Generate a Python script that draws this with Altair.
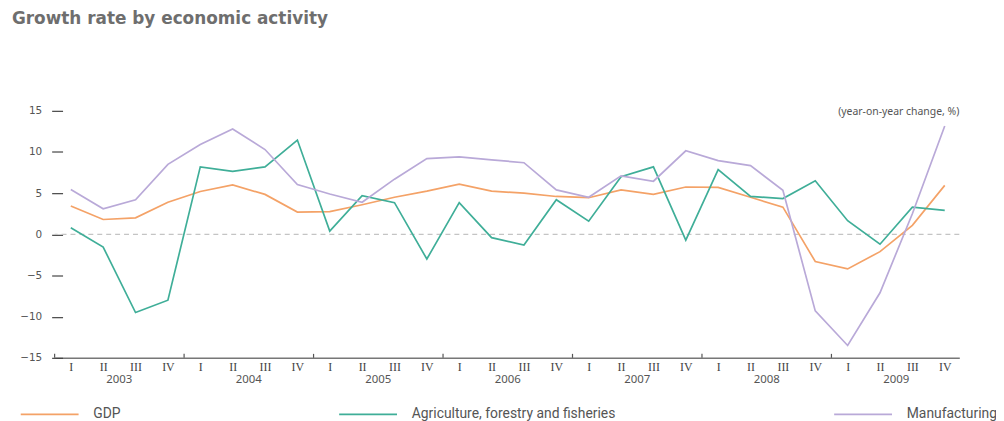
import altair as alt
import pandas as pd

# ---- data ----
years = ["2003", "2004", "2005", "2006", "2007", "2008", "2009"]
quarter_names = ["I", "II", "III", "IV"]
series_names = ["GDP", "Agriculture, forestry and fisheries", "Manufacturing"]

gdp = [3.45, 1.8, 2.0, 3.9, 5.2, 6.0, 4.85, 2.7,
       2.75, 3.6, 4.5, 5.25, 6.1, 5.25, 5.0, 4.6,
       4.45, 5.4, 4.85, 5.75, 5.7, 4.5, 3.3, -3.3,
       -4.2, -2.1, 1.1, 5.95]
agriculture = [0.8, -1.55, -9.5, -8.0, 8.2, 7.65, 8.2, 11.45,
               0.4, 4.7, 3.85, -3.0, 3.85, -0.4, -1.3, 4.2,
               1.6, 7.0, 8.2, -0.7, 7.85, 4.6, 4.35, 6.5,
               1.65, -1.2, 3.3, 2.9]
manufacturing = [5.45, 3.1, 4.2, 8.5, 10.9, 12.8, 10.3, 6.05,
                 4.9, 3.9, 6.7, 9.2, 9.4, 9.05, 8.7, 5.4,
                 4.5, 7.1, 6.45, 10.15, 8.95, 8.35, 5.35, -9.3,
                 -13.5, -7.1, 2.5, 13.15]
y_ticks = [-15, -10, -5, 0, 5, 10, 15]
unit_note = "(year-on-year change, %)"
title_text = "Growth rate by economic activity"

colors = ["#f4a267", "#3fae98", "#b9a9d8"]

n = len(gdp)
rows = []
for name, vals in zip(series_names, [gdp, agriculture, manufacturing]):
    for i, v in enumerate(vals):
        rows.append({"idx": i, "series": name, "value": v})
df = pd.DataFrame(rows)

year_df = pd.DataFrame({"year": years,
                        "mid": [4 * k + 1.5 for k in range(len(years))]})
sep_df = pd.DataFrame({"b": [4 * k - 0.5 for k in range(len(years))]})

W, H = 912, 249
xscale = alt.Scale(domain=[-0.5, 27.45], nice=False, zero=False)
yscale = alt.Scale(domain=[-15, 15], nice=False)

label_expr = "['I','II','III','IV'][datum.value % 4]"

x_axis = alt.Axis(values=list(range(n)), labelExpr=label_expr,
                  title=None, ticks=False, grid=False,
                  labelOverlap=False, labelFlush=False, labelBound=False,
                  domainColor="#777777", domainWidth=1.5,
                  labelFont="Liberation Serif", labelFontSize=12,
                  labelColor="#444444", labelPadding=4)
y_axis = alt.Axis(values=y_ticks, title=None, domain=False, grid=False,
                  tickSize=11, tickColor="#444444", tickWidth=1.2,
                  offset=-8, labelPadding=10,
                  labelFont="DejaVu Sans", labelFontSize=10.5,
                  labelColor="#555555")

lines = alt.Chart(df).mark_line(strokeWidth=1.7).encode(
    x=alt.X("idx:Q", scale=xscale, axis=x_axis),
    y=alt.Y("value:Q", scale=yscale, axis=y_axis),
    color=alt.Color("series:N",
                    scale=alt.Scale(domain=series_names, range=colors),
                    sort=series_names,
                    legend=alt.Legend(title=None, orient="none",
                                      legendX=-35, legendY=276,
                                      direction="horizontal", columns=3,
                                      columnPadding=216,
                                      symbolType="stroke", symbolSize=3400,
                                      symbolStrokeWidth=1.6, labelOffset=14,
                                      labelFont="Roboto", labelFontSize=14,
                                      labelColor="#555555", labelLimit=400)),
    order="idx:Q",
)

zero = alt.Chart(pd.DataFrame({"z": [0]})).mark_rule(
    color="#c4c4c4", strokeDash=[5, 4], strokeWidth=1.4
).encode(y=alt.Y("z:Q", scale=yscale, axis=y_axis))

seps = alt.Chart(sep_df).mark_rule(color="#555555", strokeWidth=1.2).encode(
    x=alt.X("b:Q", scale=xscale, axis=x_axis), y=alt.value(H - 4),
    y2=alt.value(H)
)

year_labels = alt.Chart(year_df).mark_text(
    font="Noto Sans", fontSize=11.5, color="#555555", baseline="middle"
).encode(x=alt.X("mid:Q", scale=xscale, axis=x_axis), y=alt.value(H + 22),
         text="year:N")

note = alt.Chart(pd.DataFrame({"t": [unit_note]})).mark_text(
    font="Noto Sans", fontSize=10.5, color="#555555", align="right",
    baseline="middle"
).encode(x=alt.value(W), y=alt.value(1), text="t:N")

chart = alt.layer(zero, lines, seps, year_labels, note).properties(
    width=W, height=H,
    background="white",
    title=alt.TitleParams(title_text, anchor="start", frame="group", dx=-43,
                          offset=79, font="DejaVu Sans", fontSize=17,
                          fontWeight="bold", color="#6e6e6e"),
    autosize=alt.AutoSizeParams(type="none"),
    padding={"left": 47, "top": 102, "right": 37, "bottom": 62},
).configure_view(stroke=None).configure_axisX(labelOverlap=False)

chart.save("out.html", embed_options={"renderer": "svg", "actions": False})
